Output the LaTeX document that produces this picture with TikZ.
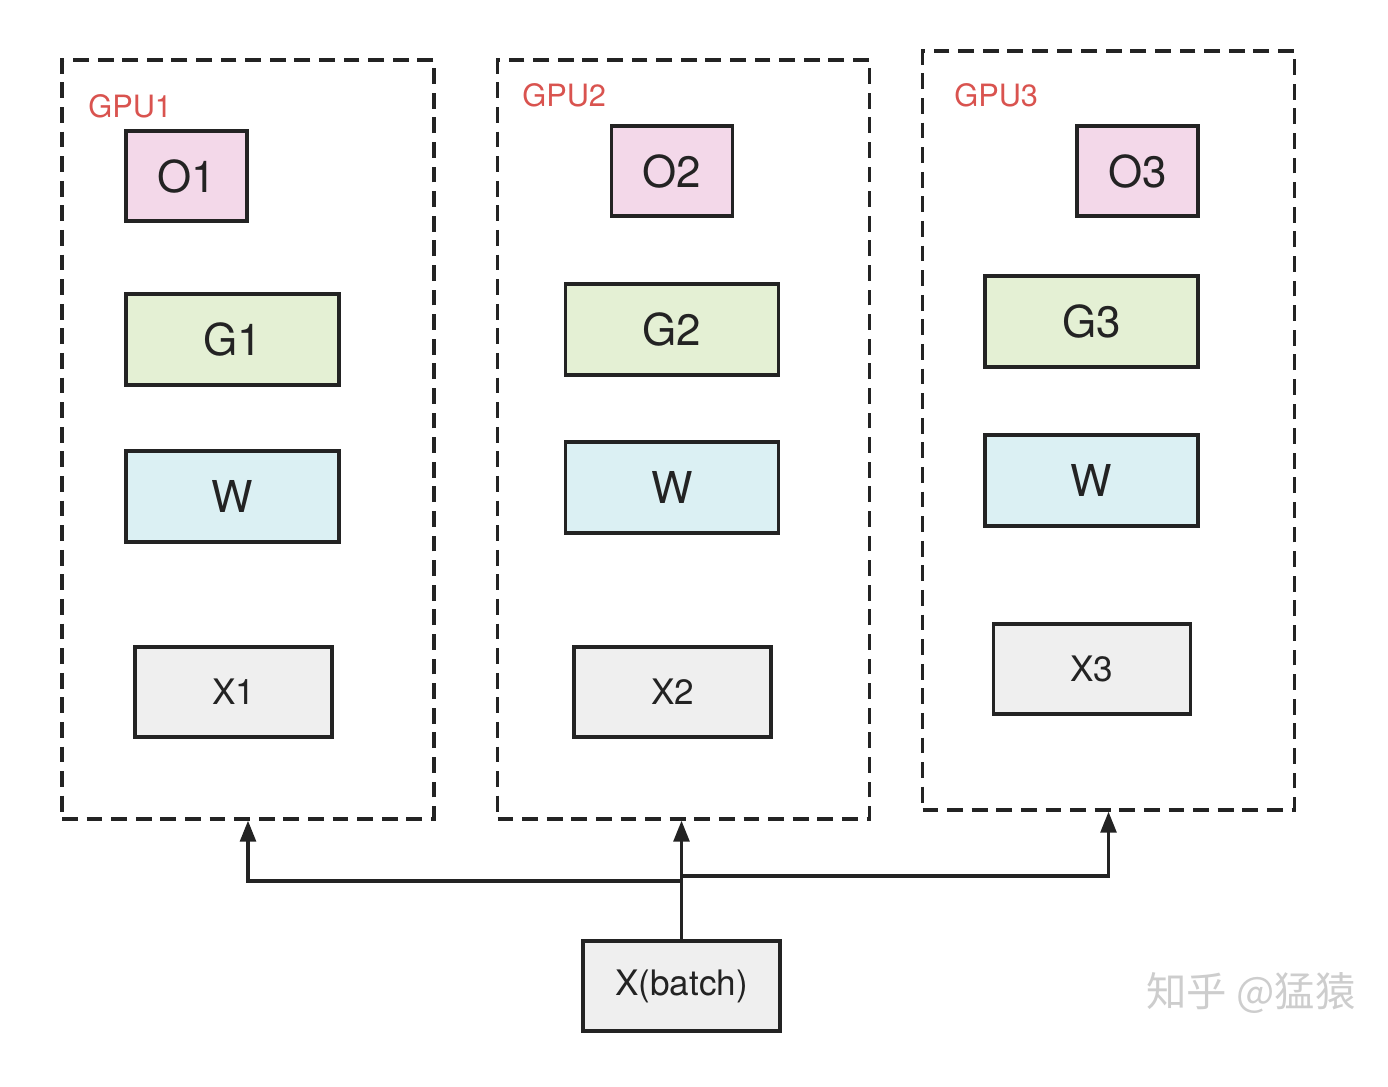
\documentclass[tikz,border=0pt]{standalone}
\usepackage{fontspec}
\setmainfont{TeX Gyre Heros}
\newfontfamily\cjkfont{Noto Sans CJK SC}
\usepackage{xcolor}
\usetikzlibrary{positioning, arrows.meta, calc}

\definecolor{oPink}{RGB}{243,216,233}
\definecolor{gGreen}{RGB}{228,240,212}
\definecolor{wCyan}{RGB}{219,240,243}
\definecolor{xGray}{RGB}{239,239,239}
\definecolor{gpuRed}{RGB}{217,83,79}
\definecolor{lineDark}{RGB}{35,35,35}
\definecolor{markGray}{RGB}{205,205,205}

\begin{document}
\begin{tikzpicture}[x=0.02cm, y=-0.02cm,
    blk/.style={draw=lineDark, line width=1.9pt, inner sep=0pt, text=lineDark},
    obox/.style={blk, fill=oPink, minimum width=2.42cm, minimum height=1.8cm,
      font=\fontsize{25}{28}\selectfont},
    gbox/.style={blk, fill=gGreen, minimum width=4.26cm, minimum height=1.82cm,
      font=\fontsize{25}{28}\selectfont},
    wbox/.style={blk, fill=wCyan, minimum width=4.26cm, minimum height=1.82cm,
      font=\fontsize{25}{28}\selectfont},
    xbox/.style={blk, fill=xGray, minimum width=3.94cm, minimum height=1.8cm,
      font=\fontsize{20}{23}\selectfont},
    gpu/.style={draw=lineDark, line width=1.9pt, dash pattern=on 9pt off 5pt,
      minimum width=7.44cm, minimum height=15.18cm, inner sep=0pt},
    gpulbl/.style={anchor=base west, inner sep=0pt, text=gpuRed,
      font=\fontsize{17.5}{20}\selectfont},
    arr/.style={draw=lineDark, line width=1.9pt, -{Triangle[length=12pt, width=9pt]}}
  ]
  \useasboundingbox (0,0) rectangle (1388,1086);

  % GPU frames
  \node[gpu] (gpu1) at (248,439.5) {};
  \node[gpu] (gpu2) at (683.5,439.5) {};
  \node[gpu] (gpu3) at (1108.5,430.5) {};
  \node[gpulbl] (lbl1) at (88,117) {GPU1};
  \node[gpulbl] (lbl2) at (522,106) {GPU2};
  \node[gpulbl] (lbl3) at (954,106) {GPU3};

  % GPU1
  \node[obox] (o1) at (186.5,176) {O1};
  \node[gbox] (g1) at (232.5,339.5) {G1};
  \node[wbox] (w1) at (232.5,496.5) {W};
  \node[xbox] (x1) at (233.5,692) {X1};

  % GPU2
  \node[obox] (o2) at (672,171) {O2};
  \node[gbox] (g2) at (672,329.5) {G2};
  \node[wbox] (w2) at (672,487.5) {W};
  \node[xbox] (x2) at (672.5,692) {X2};

  % GPU3
  \node[obox] (o3) at (1137.5,171) {O3};
  \node[gbox] (g3) at (1091.5,321.5) {G3};
  \node[wbox] (w3) at (1091.5,480.5) {W};
  \node[xbox] (x3) at (1092,669) {X3};

  % batch split
  \node[xbox] (xb) at (681.5,986) {X(batch)};
  \coordinate (split1) at (681.5,881);
  \coordinate (split2) at (681.5,876);
  \draw[arr] (xb.north) -- (xb.north |- gpu2.south);
  \draw[arr] (split1) -| (gpu1.south);
  \draw[arr] (split2) -| (gpu3.south);

  \node[text=markGray, font=\cjkfont\fontsize{23}{26}\selectfont] (wmark) at (1251,993) {知乎 @猛猿};
\end{tikzpicture}
\end{document}
